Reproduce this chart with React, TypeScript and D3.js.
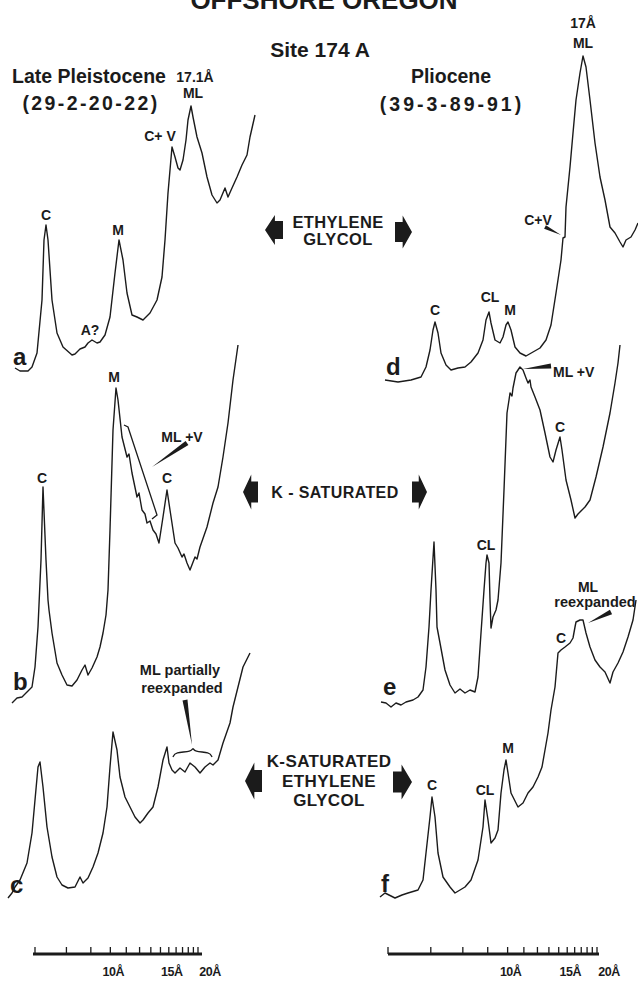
import React, { useEffect, useRef } from "react";
import * as d3 from "d3";

const W = 638;
const H = 981;
const INK = "#1b1b1b";
const FONT = "'Liberation Sans', Arial, Helvetica, sans-serif";

// traces: [2-theta (deg, CuKa), relative intensity above the trace's own base]
const traceA = [
  [13.99, 4], [13.74, 1], [13.34, 1], [13.14, 5], [12.89, 19], [12.64, 72], [12.54, 132], [12.44, 147],
  [12.34, 132], [12.14, 72], [11.89, 39], [11.59, 25], [11.14, 17], [10.99, 18], [10.74, 23], [10.49, 25],
  [10.34, 29], [10.14, 32], [9.89, 29], [9.74, 30], [9.49, 37], [9.24, 55], [8.99, 99], [8.79, 132],
  [8.59, 112], [8.39, 79], [8.14, 57], [7.89, 55], [7.59, 52], [7.24, 59], [6.89, 72], [6.64, 95],
  [6.49, 132], [6.34, 179], [6.14, 225], [5.99, 215], [5.84, 204], [5.74, 202], [5.59, 212], [5.44, 232],
  [5.34, 252], [5.19, 266], [5.09, 255], [4.89, 235], [4.64, 219], [4.39, 195], [4.14, 177], [3.89, 169],
  [3.74, 172], [3.49, 184], [3.34, 175], [3.14, 184], [2.89, 195], [2.64, 207], [2.39, 217], [2.24, 235],
  [1.99, 257],
];

const traceB = [
  [14.14, -3], [13.89, 2], [13.64, 3], [13.39, 8], [13.14, 13], [12.99, 33], [12.84, 73], [12.69, 140],
  [12.59, 213], [12.44, 140], [12.34, 100], [12.29, 90], [12.14, 67], [11.89, 37], [11.64, 25], [11.39, 15],
  [11.14, 14], [10.89, 20], [10.64, 30], [10.49, 35], [10.34, 25], [10.14, 32], [9.89, 43], [9.74, 53],
  [9.59, 67], [9.44, 85], [9.34, 110], [9.24, 170], [9.09, 270], [8.94, 312], [8.84, 300], [8.64, 263],
  [8.39, 243], [8.29, 246], [8.14, 227], [7.89, 203], [7.79, 207], [7.64, 190], [7.49, 186], [7.39, 177],
  [7.24, 179], [7.09, 170], [6.94, 166], [6.79, 157], [6.59, 183], [6.39, 210], [6.24, 190], [5.99, 157],
  [5.84, 152], [5.64, 143], [5.54, 146], [5.39, 137], [5.24, 130], [4.99, 143], [4.89, 141], [4.74, 153],
  [4.39, 173], [4.09, 197], [3.84, 213], [3.59, 243], [3.34, 277], [3.09, 320], [2.84, 355],
];

const traceC = [
  [14.34, -3], [14.14, 2], [13.99, 8], [13.74, 15], [13.39, 32], [13.14, 62], [12.99, 95], [12.84, 128],
  [12.74, 133], [12.59, 108], [12.39, 68], [12.14, 38], [11.89, 18], [11.64, 10], [11.34, 7], [10.99, 8],
  [10.74, 18], [10.59, 12], [10.34, 17], [10.09, 28], [9.84, 42], [9.59, 62], [9.39, 88], [9.24, 128],
  [9.09, 163], [8.89, 145], [8.74, 118], [8.49, 98], [8.24, 88], [7.99, 78], [7.74, 72], [7.59, 75],
  [7.34, 82], [7.09, 88], [6.84, 108], [6.59, 135], [6.39, 148], [6.29, 132], [6.14, 125], [5.99, 122],
  [5.74, 127], [5.49, 123], [5.24, 132], [4.99, 128], [4.74, 122], [4.49, 128], [4.24, 132], [4.09, 130],
  [3.84, 135], [3.59, 152], [3.24, 172], [3.09, 188], [2.84, 208], [2.59, 228], [2.24, 242],
];

const traceD = [
  [14.99, 0], [14.34, -2], [13.69, 0], [13.19, 3], [12.94, 13], [12.74, 30], [12.59, 50], [12.49, 58],
  [12.34, 47], [12.19, 27], [11.94, 15], [11.69, 10], [11.34, 12], [10.99, 13], [10.69, 18], [10.34, 27],
  [10.09, 40], [9.94, 60], [9.79, 68], [9.69, 57], [9.49, 40], [9.24, 37], [9.09, 43], [8.94, 55],
  [8.84, 58], [8.69, 50], [8.49, 33], [8.24, 27], [7.94, 24], [7.59, 28], [7.24, 32], [6.94, 40],
  [6.69, 55], [6.44, 87], [6.19, 120], [6.09, 142], [5.99, 143], [5.94, 173], [5.74, 213], [5.59, 247],
  [5.44, 280], [5.24, 307], [5.09, 324], [4.94, 313], [4.74, 280], [4.49, 237], [4.24, 203], [3.99, 180],
  [3.74, 153], [3.49, 147], [3.24, 138], [3.09, 133], [2.94, 140], [2.69, 143], [2.49, 150], [2.34, 157],
];

const traceE = [
  [15.19, -2], [14.94, -3], [14.69, -7], [14.44, -3], [14.19, -5], [13.94, -2], [13.59, 0], [13.34, 3],
  [13.09, 10], [12.94, 33], [12.79, 73], [12.69, 110], [12.54, 158], [12.44, 110], [12.39, 73], [12.24, 57],
  [11.99, 30], [11.74, 15], [11.49, 7], [11.24, 11], [10.99, 7], [10.74, 10], [10.49, 8], [10.34, 23],
  [10.19, 67], [10.04, 110], [9.94, 137], [9.89, 145], [9.79, 137], [9.74, 100], [9.69, 72], [9.59, 83],
  [9.44, 90], [9.34, 100], [9.19, 137], [9.04, 210], [8.89, 287], [8.79, 300], [8.74, 307], [8.64, 304],
  [8.59, 312], [8.44, 327], [8.24, 333], [8.09, 330], [7.94, 322], [7.84, 317], [7.74, 320], [7.69, 313],
  [7.49, 303], [7.24, 290], [6.99, 267], [6.74, 243], [6.59, 238], [6.44, 250], [6.24, 263], [6.14, 250],
  [5.94, 220], [5.69, 200], [5.49, 182], [5.34, 186], [5.24, 188], [4.99, 193], [4.74, 200], [4.44, 223],
  [4.09, 253], [3.74, 287], [3.49, 317], [3.34, 337], [3.24, 355],
];

const traceF = [
  [15.24, -2], [14.99, 2], [14.49, -3], [14.14, 0], [13.84, 2], [13.34, 5], [13.09, 15], [12.94, 42],
  [12.74, 78], [12.64, 98], [12.49, 78], [12.34, 42], [12.09, 18], [11.74, 8], [11.49, 2], [11.24, 5],
  [10.99, 8], [10.69, 15], [10.34, 35], [10.09, 68], [9.99, 95], [9.84, 75], [9.69, 52], [9.49, 57],
  [9.34, 65], [9.19, 102], [9.04, 125], [8.94, 135], [8.84, 122], [8.69, 102], [8.34, 88], [8.09, 92],
  [7.84, 102], [7.59, 108], [7.34, 118], [7.14, 128], [6.99, 145], [6.84, 162], [6.69, 185], [6.49, 208],
  [6.34, 242], [6.19, 245], [5.99, 248], [5.74, 252], [5.59, 257], [5.49, 268], [5.44, 273], [5.24, 275],
  [5.09, 275], [4.94, 262], [4.74, 248], [4.49, 235], [4.24, 228], [3.99, 223], [3.74, 212], [3.59, 223],
  [3.34, 232], [3.09, 243], [2.84, 258], [2.59, 275], [2.44, 295],
];

// peak labels [text, 2-theta, intensity of baseline]
const labelsA = [["C", 12.44, 152], ["M", 8.84, 137], ["A?", 10.24, 37], ["C+ V", 6.74, 231], ["17.1Å", 4.99, 290], ["ML", 5.09, 274]];
const labelsB = [["M", 9.04, 318], ["C", 12.64, 217], ["ML +V", 5.64, 258], ["C", 6.39, 217]];
const labelsC = [["ML partially", 5.74, 220], ["reexpanded", 5.64, 202]];
const labelsD = [["C", 12.49, 65], ["CL", 9.74, 78], ["M", 8.74, 65], ["C+V", 7.34, 155], ["17Å", 5.09, 352], ["ML", 5.09, 332]];
const labelsE = [["C", 6.24, 268], ["CL", 9.94, 150]];
const labelsF = [["C", 12.64, 105], ["CL", 9.99, 100], ["M", 8.84, 142], ["C", 6.19, 252], ["ML", 4.84, 303], ["reexpanded", 4.49, 288]];

const traces = [
  { id: "a", data: traceA, base: 372, col: 0, labels: labelsA, letter: [14.09, 7] },
  { id: "b", data: traceB, base: 700, col: 0, labels: labelsB, letter: [14.09, 10] },
  { id: "c", data: traceC, base: 895, col: 0, labels: labelsC, letter: [14.24, 2] },
  { id: "d", data: traceD, base: 380, col: 1, labels: labelsD, letter: [14.94, 5] },
  { id: "e", data: traceE, base: 700, col: 1, labels: labelsE, letter: [15.09, 5], startLabel: ["ML +V", 6.59, 323] },
  { id: "f", data: traceF, base: 895, col: 1, labels: labelsF, letter: [15.19, 3] },
];

// tapered pointers: [trace, thin end, thick end, width]
const pointers = [
  ["b", [7.14, 233], [5.39, 257], 5],
  ["c", [5.14, 150], [5.49, 195], 5],
  ["d", [6.19, 145], [6.99, 153], 4],
  ["e", [8.09, 331], [6.69, 334], 5],
  ["f", [4.84, 272], [3.69, 283], 5],
];
const bracketB = [[8.54, 275], [8.34, 273], [6.89, 185], [7.14, 181]];
const braceC = [[6.09, 138], [5.99, 143], [5.14, 143], [5.09, 148], [5.04, 143], [4.24, 143], [4.14, 138]];

// scale bars: d-spacing ticks (Å)
const ticksLeft = d3.range(7, 21);
const ticksRight = d3.range(6, 21);
const tickLabels = [10, 15, 20];

const treatments = [
  { lines: ["ETHYLENE", "GLYCOL"], cx: 338, y: 228, dy: 17, size: 16.5, l: [265, 230, 18, 30], r: [395, 232, 17, 33] },
  { lines: ["K - SATURATED"], cx: 335, y: 498, dy: 0, size: 16, l: [243, 492, 15, 35], r: [412, 492, 15, 35] },
  { lines: ["K-SATURATED", "ETHYLENE", "GLYCOL"], cx: 329, y: 767, dy: 19.5, size: 17, l: [245, 781, 17, 37], r: [393, 782, 19, 35] },
];

const twoTheta = (d: number) => (2 * Math.asin(1.5418 / (2 * d)) * 180) / Math.PI;

function App() {
  const svgRef = useRef<SVGSVGElement>(null);

  useEffect(() => {
    const svg = d3.select(svgRef.current);
    svg.selectAll("*").remove();

    const xCols = [
      d3.scaleLinear().domain([15, 1.5]).range([-5.2, 264.8]),
      d3.scaleLinear().domain([16, 2]).range([364.8, 644.8]),
    ];
    const yOf = (base: number) => d3.scaleLinear().domain([0, 100]).range([base, base - 100]);
    const byId: any = {};
    traces.forEach((t) => (byId[t.id] = { x: xCols[t.col], y: yOf(t.base) }));

    svg.append("rect").attr("width", W).attr("height", H).attr("fill", "#fff");

    // headings
    const head = svg.append("g").attr("font-family", FONT).attr("font-weight", "bold").attr("fill", INK);
    head.append("text").attr("x", 324).attr("y", 9).attr("font-size", 26).attr("text-anchor", "middle").text("OFFSHORE OREGON");
    head.append("text").attr("x", 320).attr("y", 57).attr("font-size", 21).attr("text-anchor", "middle").text("Site 174 A");
    head.append("text").attr("x", 89).attr("y", 83).attr("font-size", 19.5).attr("text-anchor", "middle").text("Late Pleistocene");
    head.append("text").attr("x", 91).attr("y", 110).attr("font-size", 19.5).attr("letter-spacing", 2.4).attr("text-anchor", "middle").text("(29-2-20-22)");
    head.append("text").attr("x", 451).attr("y", 83).attr("font-size", 19.5).attr("text-anchor", "middle").text("Pliocene");
    head.append("text").attr("x", 452).attr("y", 111).attr("font-size", 19.5).attr("letter-spacing", 3).attr("text-anchor", "middle").text("(39-3-89-91)");

    const line = d3.line<number[]>();

    traces.forEach((t) => {
      const { x, y } = byId[t.id];
      line.x((d) => x(d[0])).y((d) => y(d[1]));
      svg.append("path").attr("d", line(t.data as number[][])).attr("fill", "none")
        .attr("stroke", INK).attr("stroke-width", 1.4).attr("stroke-linejoin", "round");

      const g = svg.append("g").attr("font-family", FONT).attr("font-weight", "bold").attr("fill", INK);
      t.labels.forEach((l: any) => {
        const long = l[0].length > 6;
        g.append("text").attr("x", x(l[1])).attr("y", y(l[2])).attr("text-anchor", "middle")
          .attr("font-size", long ? 14.5 : 14).text(l[0]);
      });
      if ((t as any).startLabel) {
        const s = (t as any).startLabel;
        g.append("text").attr("x", x(s[1])).attr("y", y(s[2])).attr("font-size", 14).text(s[0]);
      }
      g.append("text").attr("x", x(t.letter[0])).attr("y", y(t.letter[1])).attr("font-size", 24).text(t.id);
    });

    // pointers
    pointers.forEach((p: any) => {
      const { x, y } = byId[p[0]];
      const x1 = x(p[1][0]), y1 = y(p[1][1]), x2 = x(p[2][0]), y2 = y(p[2][1]);
      const len = Math.hypot(x2 - x1, y2 - y1);
      const nx = (-(y2 - y1) / len) * (p[3] / 2), ny = ((x2 - x1) / len) * (p[3] / 2);
      svg.append("path").attr("d", `M${x1},${y1}L${x2 + nx},${y2 + ny}L${x2 - nx},${y2 - ny}Z`).attr("fill", INK);
    });

    const bline = d3.line<number[]>();
    const bb = byId.b;
    svg.append("path").attr("d", bline.x((d) => bb.x(d[0])).y((d) => bb.y(d[1]))(bracketB))
      .attr("fill", "none").attr("stroke", INK).attr("stroke-width", 1.3);
    const bc = byId.c;
    svg.append("path").attr("d", bline.x((d) => bc.x(d[0])).y((d) => bc.y(d[1])).curve(d3.curveBasis)(braceC))
      .attr("fill", "none").attr("stroke", INK).attr("stroke-width", 1.3);

    // treatment arrows and texts
    const arrow = (x0: number, cy: number, len: number, h: number, dir: number) => {
      const hl = len * 0.55, th = h * 0.6;
      const pts = [[0, 0], [hl, -h / 2], [hl, -th / 2], [len, -th / 2], [len, th / 2], [hl, th / 2], [hl, h / 2]];
      return "M" + pts.map(([px, py]) => `${dir < 0 ? x0 + px : x0 + len - px},${cy + py}`).join("L") + "Z";
    };
    treatments.forEach((tr) => {
      svg.append("path").attr("d", arrow(tr.l[0], tr.l[1], tr.l[2], tr.l[3], -1)).attr("fill", INK);
      svg.append("path").attr("d", arrow(tr.r[0], tr.r[1], tr.r[2], tr.r[3], 1)).attr("fill", INK);
      tr.lines.forEach((s, i) => {
        svg.append("text").attr("x", tr.cx).attr("y", tr.y + i * tr.dy).attr("text-anchor", "middle")
          .attr("font-family", FONT).attr("font-weight", "bold").attr("font-size", tr.size)
          .attr("letter-spacing", 0.4).attr("fill", INK).text(s);
      });
    });

    // scale bars
    const bars = [
      { sc: d3.scaleLinear().domain([twoTheta(7), twoTheta(20)]).range([35, 198]), ticks: ticksLeft, ext: [33, 202] },
      { sc: d3.scaleLinear().domain([twoTheta(6), twoTheta(20)]).range([388, 597]), ticks: ticksRight, ext: [388, 599] },
    ];
    const barY = 954;
    bars.forEach((b) => {
      svg.append("line").attr("x1", b.ext[0]).attr("x2", b.ext[1]).attr("y1", barY).attr("y2", barY)
        .attr("stroke", INK).attr("stroke-width", 3);
      b.ticks.forEach((d) => {
        const tx = b.sc(twoTheta(d));
        svg.append("line").attr("x1", tx).attr("x2", tx).attr("y1", barY).attr("y2", barY - 7)
          .attr("stroke", INK).attr("stroke-width", 1.3);
      });
      tickLabels.forEach((d) => {
        const tx = b.sc(twoTheta(d));
        svg.append("text").attr("x", d === 20 ? tx + 12 : tx + 3).attr("y", 976).attr("text-anchor", "middle")
          .attr("font-family", FONT).attr("font-weight", "bold").attr("font-size", 12.5)
          .attr("letter-spacing", -0.5).attr("fill", INK).text(`${d}Å`);
      });
    });
  }, []);

  return (
    <svg ref={svgRef} width={W} height={H} style={{ position: "absolute", left: 0, top: 0 }} />
  );
}

export default App;
